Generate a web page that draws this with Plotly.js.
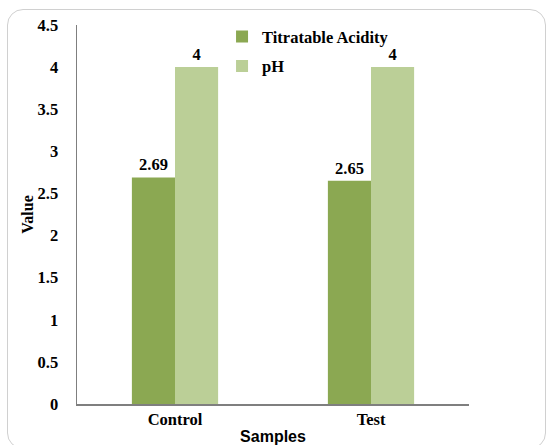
<!DOCTYPE html>
<html><head><meta charset="utf-8">
<script src="https://cdn.plot.ly/plotly-3.0.1.min.js"></script>
<style>
body{margin:0;padding:0;background:#fff;}
#wrap{position:relative;width:551px;height:445px;}
#chart{width:551px;height:445px;}
#frame{position:absolute;left:7px;top:9px;width:539px;height:440px;border:1px solid #d0d0d0;border-radius:16px;pointer-events:none;box-sizing:border-box;}
</style></head>
<body>
<div id="wrap"><div id="chart"></div><div id="frame"></div></div>
<script>
const categories = ["Control", "Test"];
const titratableAcidity = [2.69, 2.65];
const pH = [4, 4];
const yTicks = [0, 0.5, 1, 1.5, 2, 2.5, 3, 3.5, 4, 4.5];

const serifFam = "Liberation Serif, Times New Roman, serif";
const tickFont = {family: serifFam, size: 16.5, color: "#000"};
const labelFont = {family: serifFam, size: 16.5, color: "#000"};
const legendFont = {family: serifFam, size: 16.5, color: "#000"};

const traces = [
  {type: "bar", name: "<b>Titratable Acidity</b>", x: categories, y: titratableAcidity,
   marker: {color: "#8BA852"}, text: titratableAcidity.map(v => "<b>" + v + "</b>"),
   textposition: "outside", textfont: labelFont, cliponaxis: false, legendgroup: "a"},
  {type: "bar", name: "<b>pH</b>", x: categories, y: pH,
   marker: {color: "#BBCF97"}, text: pH.map(v => "<b>" + v + "</b>"),
   textposition: "outside", textfont: labelFont, cliponaxis: false, legendgroup: "b"}
];

const layout = {
  width: 551, height: 445,
  margin: {l: 77, r: 82, t: 25, b: 41},
  paper_bgcolor: "#fff", plot_bgcolor: "#fff",
  barmode: "group", bargap: 0.56, bargroupgap: 0,
  showlegend: true,
  legend: {x: 0.37, y: 1.015, xanchor: "left", yanchor: "top", font: legendFont,
           traceorder: "grouped", tracegroupgap: 5, bgcolor: "rgba(0,0,0,0)", itemwidth: 30},
  xaxis: {type: "category", showline: true, linecolor: "#7f7f7f", linewidth: 1.5,
          ticks: "", tickfont: tickFont, showgrid: false,
          tickvals: categories, ticktext: categories.map(c => "<b>" + c + "</b>"),
          title: {text: "<b>Samples</b>", font: {family: "Liberation Sans, Arial, sans-serif", size: 16, color: "#000"}, standoff: 3}},
  yaxis: {range: [0, 4.5], tickvals: yTicks, ticktext: yTicks.map(v => "<b>" + v + "</b>"),
          showline: true, linecolor: "#7f7f7f", linewidth: 1.5, ticks: "", showgrid: false,
          zeroline: false, tickfont: tickFont, ticklabelstandoff: 14,
          title: {text: "<b>Value</b>", font: {family: serifFam, size: 16, color: "#000"}, standoff: 0}}
};

Plotly.newPlot("chart", traces, layout, {displayModeBar: false, staticPlot: true});
</script>
</body></html>
